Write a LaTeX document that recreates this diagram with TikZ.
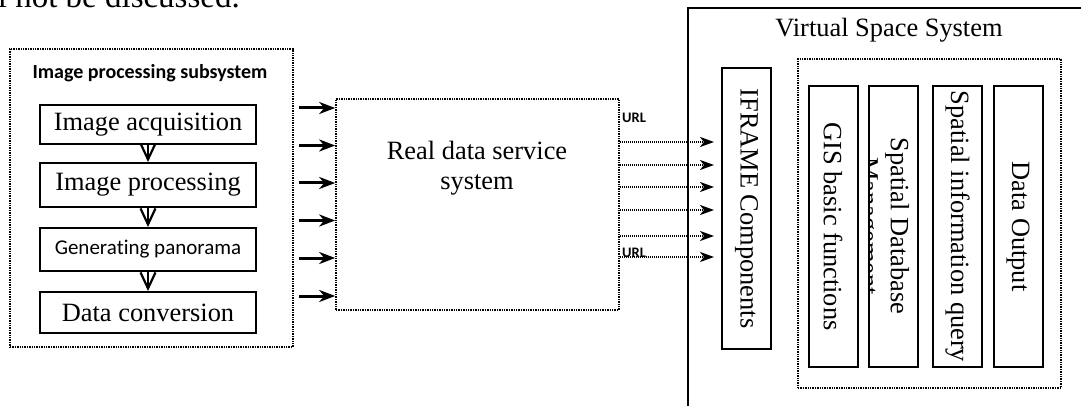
\documentclass[tikz,border=0pt]{standalone}
\usepackage{fontspec}
\setmainfont{Liberation Serif}
\newfontfamily\carlito[Ligatures=NoCommon]{Carlito}
\usetikzlibrary{arrows.meta}
\begin{document}
\begin{tikzpicture}[x=1pt,y=-1pt,
  serif/.style={font=\fontsize{26.4}{30.4}\selectfont},
  solidbox/.style={draw, line width=2pt, inner sep=0pt},
  dotbox/.style={draw, line width=1.6pt, dash pattern=on 1.4pt off 1pt, inner sep=0pt},
  stepbox/.style={solidbox, serif, minimum width=216pt},
  colbox/.style={solidbox, serif, rotate=-90, minimum width=281pt, minimum height=49pt},
  flow/.style={line width=2pt, -{Straight Barb[length=16pt,width=15pt,line width=2.2pt]}},
  feed/.style={line width=3pt, -{Stealth[length=16pt,width=12pt,inset=5pt]}},
  link/.style={line width=2.2pt, dash pattern=on 1.3pt off 0.7pt, shorten >=7pt,
    -{Stealth[length=14pt,width=10pt,inset=4pt]}},
  tag/.style={font=\carlito\bfseries\fontsize{14.5}{16}\selectfont, inner sep=0pt}
]
\useasboundingbox (0,0) rectangle (1081,406);

% preceding line of body text, cut at the top edge
\begin{scope}
  \clip (0,0) rectangle (1081,406);
  \node[anchor=base east, font=\fontsize{33}{38}\selectfont, inner sep=0pt] (prevline) at (240,7.5) {will not be discussed.};
\end{scope}

% image processing subsystem
\node[dotbox, minimum width=283pt, minimum height=298pt] (ips) at (151.5,198) {};
\node[font=\carlito\bfseries\fontsize{20}{24}\selectfont] (ipstitle) at (150,73) {Image processing subsystem};
\node[stepbox, minimum height=39pt] (acq) at (148,124.5) {Image acquisition};
\node[stepbox, minimum height=44pt] (proc) at (148,185) {Image processing};
\node[stepbox, minimum height=43pt, font=\carlito\fontsize{21}{25}\selectfont] (pano) at (148,249.5) {Generating panorama};
\node[stepbox, minimum height=41pt] (conv) at (148,312.5) {Data conversion};
\draw[flow] (acq.south) -- (proc.north);
\draw[flow] (proc.south) -- (pano.north);
\draw[flow] (pano.south) -- (conv.north);

% real data service system
\node[dotbox, minimum width=283pt, minimum height=211pt] (rds) at (477.5,204.5) {};
\node[serif, align=center] (rdstitle) at (477,168) {Real data service\\system};
\foreach \i/\y in {1/108,2/145.5,3/183,4/220.5,5/258,6/296} {
  \coordinate (in\i) at (299,\y);
  \draw[feed] (in\i) -- (in\i -| rds.west);
}

% virtual space system
\coordinate (vbl) at (688,406);
\coordinate (vtl) at (688,8);
\coordinate (vtr) at (1081,8);
\draw[line width=2.5pt] (vbl) -- (vtl) -- (vtr);
\node[serif] (vsstitle) at (889,30) {Virtual Space System};
\node[colbox] (iframe) at (746.5,208.5) {IFRAME Components};

\foreach \i/\y in {1/142,2/165,3/187,4/210,5/236,6/257} {
  \coordinate (out\i) at (rds.east |- 0,\y);
  \draw[link] (out\i) -- (out\i -| iframe.south);
}
\node[tag, anchor=west] (url1) at (622,118) {URL};
\node[tag, anchor=west] (url2) at (622,253) {URL};

\node[dotbox, minimum width=263pt, minimum height=329pt] (modules) at (929.5,223.5) {};
\node[colbox] (gis) at (833,226.5) {GIS basic functions};
\node[colbox] (sdb) at (893.5,226.5) {};
\begin{scope}
  \clip (sdb.north west) rectangle (sdb.south east);
  \node[serif, rotate=-90, align=center, inner sep=0pt] (sdbtext) at (882,226) {Spatial Database\\Management};
\end{scope}
\node[colbox] (siq) at (957.5,226.5) {Spatial information query};
\node[colbox] (dout) at (1018,226.5) {Data Output};
\end{tikzpicture}
\end{document}
